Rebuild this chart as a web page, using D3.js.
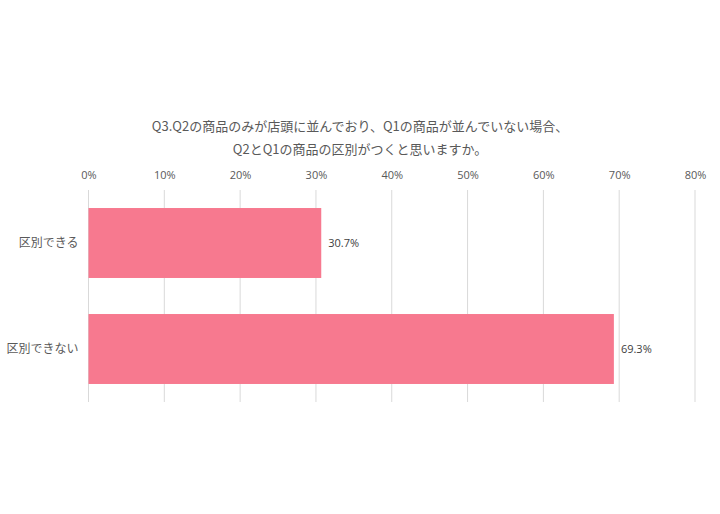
<!DOCTYPE html>
<html><head><meta charset="utf-8">
<script src="https://cdn.jsdelivr.net/npm/d3@7"></script>
<style>
body{margin:0;background:#fff;}
svg{display:block;font-family:"Noto Sans CJK JP","Noto Sans",sans-serif;}
</style></head>
<body>
<svg id="chart" width="720" height="514"></svg>
<script>
const titleLines = ["Q3.Q2の商品のみが店頭に並んでおり、Q1の商品が並んでいない場合、", "Q2とQ1の商品の区別がつくと思いますか。"];
const categories = ["区別できる", "区別できない"];
const values = [30.7, 69.3];
const tickValues = [0, 10, 20, 30, 40, 50, 60, 70, 80];

const svg = d3.select("#chart");
const x = d3.scaleLinear().domain([0, 80]).range([88.5, 695]);
const y = d3.scaleBand().domain(categories).range([190, 402]).paddingInner(0.34).paddingOuter(0.17);

// title
svg.append("g").selectAll("text").data(titleLines).join("text")
  .attr("x", 360).attr("y", (d, i) => 131 + i * 23)
  .attr("text-anchor", "middle").attr("fill", "#595959")
  .attr("font-size", 13).text(d => d);

// grid + ticks
const xAxis = d3.axisTop(x).tickValues(tickValues).tickFormat(d => d + "%").tickSize(0).tickPadding(0);
const gx = svg.append("g").attr("transform", "translate(0,179)").call(xAxis);
gx.select(".domain").remove();
gx.selectAll("text").attr("fill", "#595959").attr("font-size", 11).attr("font-family", "'Open Sans','Noto Sans',sans-serif");

svg.append("g").selectAll("line").data(tickValues).join("line")
  .attr("x1", d => x(d)).attr("x2", d => x(d))
  .attr("y1", 190).attr("y2", 402)
  .attr("stroke", "#d9d9d9").attr("stroke-width", 1);

// bars
svg.append("g").selectAll("rect").data(values).join("rect")
  .attr("x", x(0)).attr("y", (d, i) => y(categories[i]))
  .attr("width", d => x(d) - x(0)).attr("height", y.bandwidth())
  .attr("fill", "#F7798F");

// value labels
svg.append("g").selectAll("text").data(values).join("text")
  .attr("x", d => x(d) + 7).attr("y", (d, i) => y(categories[i]) + y.bandwidth() / 2)
  .attr("dy", "0.35em").attr("fill", "#404040").attr("font-size", 11)
  .attr("font-family", "'Open Sans','Noto Sans',sans-serif")
  .text(d => d.toFixed(1) + "%");

// category labels
const yAxis = d3.axisLeft(y).tickSize(0).tickPadding(10);
const gy = svg.append("g").attr("transform", `translate(${x(0)},0)`).call(yAxis);
gy.select(".domain").remove();
gy.selectAll("text").attr("fill", "#595959").attr("font-size", 12).attr("font-family", "'Noto Sans CJK JP',sans-serif");
</script>
</body></html>
